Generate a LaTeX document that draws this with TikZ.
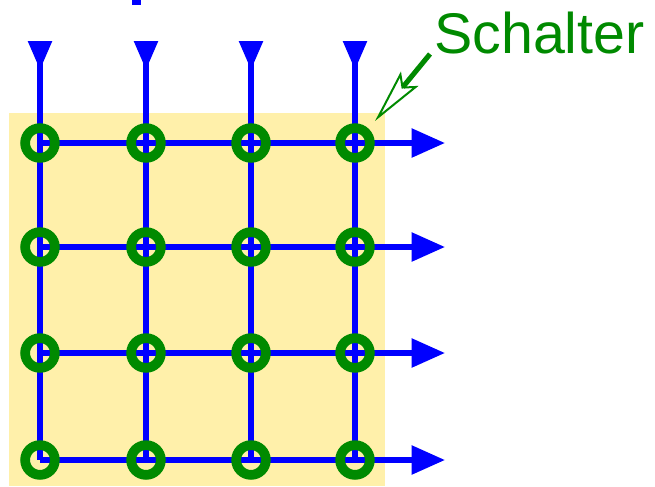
\documentclass[tikz,border=0pt]{standalone}
\usepackage{fontspec}
\setmainfont{Liberation Sans}
\usetikzlibrary{arrows.meta, positioning}
\definecolor{cBlue}{HTML}{0000FF}
\definecolor{cGreen}{HTML}{008A00}
\definecolor{cYellow}{HTML}{FFF0AA}

\begin{document}
\begin{tikzpicture}[
    x=0.75pt, y=-0.75pt,
    % ---------------------------------------------------------
    % STILE
    % ---------------------------------------------------------
    schalter/.style={
        circle,
        draw=cGreen,
        line width=7.3pt,
        minimum size=22.3pt,
        inner sep=0pt
    },
    leitung/.style={
        draw=cBlue,
        line width=4.1pt
    },
    eingang/.style={
        leitung,
        {Triangle[reversed, length=21.75pt, width=17.25pt]}-
    },
    ausgang/.style={
        leitung,
        -{Triangle[length=25pt, width=21pt]}
    },
    hinweis/.style={
        draw=cGreen,
        line width=3.8pt,
        -{Stealth[open, length=41pt, width=17pt, inset=7.5pt, line width=1.5pt]}
    }
]
\useasboundingbox (0,0) rectangle (655,486);

% ---------------------------------------------------------
% 1. HINTERGRUND
% ---------------------------------------------------------
\fill[cYellow] (9,113) rectangle (385,486);
\fill[cBlue] (132,0) rectangle (141,5);

% ---------------------------------------------------------
% 2. KOORDINATEN (Raster)
% ---------------------------------------------------------
% Zeile 1 (y = 143)
\coordinate (S11) at (40, 143);
\coordinate (S12) at (146, 143);
\coordinate (S13) at (251, 143);
\coordinate (S14) at (355, 143);
% Zeile 2 (y = 247)
\coordinate (S21) at (40, 247);
\coordinate (S22) at (146, 247);
\coordinate (S23) at (251, 247);
\coordinate (S24) at (355, 247);
% Zeile 3 (y = 353)
\coordinate (S31) at (40, 353);
\coordinate (S32) at (146, 353);
\coordinate (S33) at (251, 353);
\coordinate (S34) at (355, 353);
% Zeile 4 (y = 460)
\coordinate (S41) at (40, 460);
\coordinate (S42) at (146, 460);
\coordinate (S43) at (251, 460);
\coordinate (S44) at (355, 460);

% Eingaenge oben
\coordinate (E1) at (40, 41);
\coordinate (E2) at (146, 41);
\coordinate (E3) at (251, 41);
\coordinate (E4) at (355, 41);

% Ausgaenge rechts
\coordinate (A1) at (445, 143);
\coordinate (A2) at (445, 247);
\coordinate (A3) at (445, 353);
\coordinate (A4) at (445, 460);

% ---------------------------------------------------------
% 3. LEITUNGEN
% ---------------------------------------------------------
% Spalten
\draw[eingang] (E1) -- (S41);
\draw[eingang] (E2) -- (S42);
\draw[eingang] (E3) -- (S43);
\draw[eingang] (E4) -- (S44);

% Zeilen
\draw[ausgang] (S11) -- (A1);
\draw[ausgang] (S21) -- (A2);
\draw[ausgang] (S31) -- (A3);
\draw[ausgang] (S41) -- (A4);

% ---------------------------------------------------------
% 4. SCHALTER (Knoten)
% ---------------------------------------------------------
\node[schalter] (K11) at (S11) {};
\node[schalter] (K12) at (S12) {};
\node[schalter] (K13) at (S13) {};
\node[schalter] (K14) at (S14) {};

\node[schalter] (K21) at (S21) {};
\node[schalter] (K22) at (S22) {};
\node[schalter] (K23) at (S23) {};
\node[schalter] (K24) at (S24) {};

\node[schalter] (K31) at (S31) {};
\node[schalter] (K32) at (S32) {};
\node[schalter] (K33) at (S33) {};
\node[schalter] (K34) at (S34) {};

\node[schalter] (K41) at (S41) {};
\node[schalter] (K42) at (S42) {};
\node[schalter] (K43) at (S43) {};
\node[schalter] (K44) at (S44) {};

% ---------------------------------------------------------
% 5. BESCHRIFTUNG
% ---------------------------------------------------------
\node[anchor=base west, inner sep=0pt, text=cGreen, font=\fontsize{43}{50}\selectfont] (lblSchalter) at (434, 53) {Schalter};
\coordinate (spitze) at (375, 121);
\draw[hinweis] (430, 54) -- (spitze);

\end{tikzpicture}
\end{document}
